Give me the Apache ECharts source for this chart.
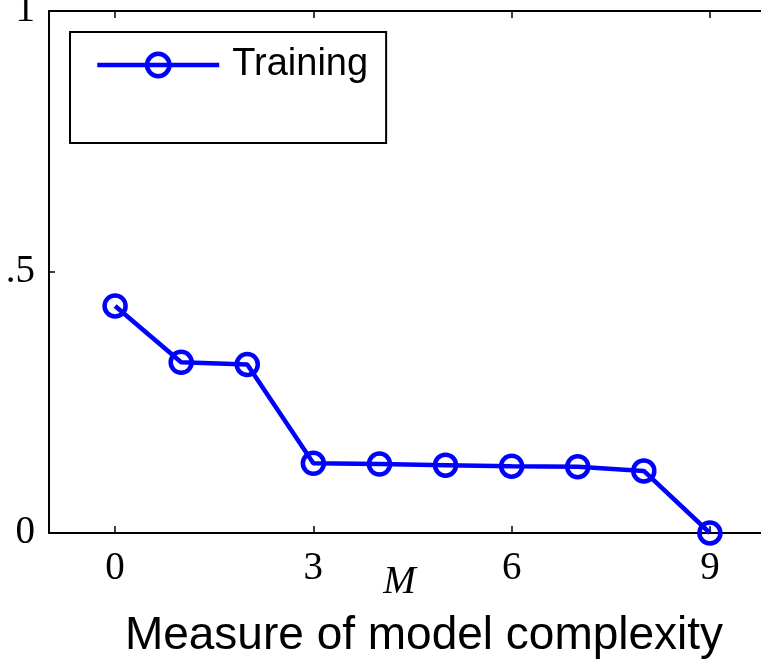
<!DOCTYPE html>
<html lang="en">
<head>
    <meta charset="UTF-8">
    <title>Training error vs M</title>
    <script src="https://cdn.jsdelivr.net/npm/echarts@6/dist/echarts.min.js"></script>
    <style>
        body{
            margin: 0;
            overflow: hidden;
            background: #fff;
        }
        #chart{
            position: absolute;
            left: 0;
            top: 0;
            width: 800px;
            height: 660px;
        }
    </style>
</head>
<body>
    <div id="chart"></div>
    <script>
        // data
        var mValues = [0, 1, 2, 3, 4, 5, 6, 7, 8, 9]
        var trainingErr = [0.435, 0.327, 0.323, 0.1335, 0.132, 0.130, 0.128, 0.127, 0.119, 0.0]
        var xTickValues = [0, 3, 6, 9]
        var yTickLabels = {0: '0', 0.5: '.5', 1: '1'}

        var blue = '#0000ff'
        var serif = 'Liberation Serif'
        var sans = 'Liberation Sans'

        var points = mValues.map(function (m, i) { return [m, trainingErr[i]] })

        var myChart = echarts.init(document.getElementById('chart'))
        var axisLine = {show: true, onZero: false, lineStyle: {color: '#000', width: 2}}
        var option = {
            animation: false,
            grid: {left: 49, top: 11, right: 24, bottom: 127, outerBoundsMode: 'none', containLabel: false},
            title: {
                text: 'Measure of model complexity',
                left: 419,
                textAlign: 'center',
                top: 608,
                textStyle: {fontFamily: sans, fontSize: 46, fontWeight: 'normal', color: '#000'}
            },
            legend: {
                left: 70,
                top: 32,
                orient: 'vertical',
                itemWidth: 122,
                itemHeight: 28,
                padding: [14, 18, 59, 25],
                borderColor: '#000',
                borderWidth: 2,
                backgroundColor: '#fff',
                lineStyle: {width: 4.5},
                itemStyle: {borderWidth: 4.5},
                textStyle: {fontFamily: sans, fontSize: 38, color: '#000', padding: [0, 0, 0, 8]},
                data: ['Training']
            },
            xAxis: [{
                type: 'value',
                min: -1,
                max: 10,
                name: 'M',
                nameLocation: 'middle',
                nameGap: 30,
                nameMoveOverlap: false,
                nameTextStyle: {fontFamily: serif, fontStyle: 'italic', fontSize: 39, color: '#000', padding: [0, 26, 0, 0]},
                axisLine: axisLine,
                splitLine: {show: false},
                axisTick: {show: true, inside: true, length: 7, customValues: xTickValues, lineStyle: {color: '#000', width: 1.5}},
                axisLabel: {customValues: xTickValues, margin: 16, fontFamily: serif, fontSize: 39, color: '#000'}
            }, {
                type: 'value',
                position: 'top',
                min: -1,
                max: 10,
                axisLine: axisLine,
                splitLine: {show: false},
                axisTick: {show: true, inside: true, length: 7, customValues: xTickValues, lineStyle: {color: '#000', width: 1.5}},
                axisLabel: {show: false}
            }],
            yAxis: {
                type: 'value',
                min: 0,
                max: 1,
                interval: 0.5,
                axisLine: axisLine,
                splitLine: {show: false},
                axisTick: {show: true, inside: true, length: 6, lineStyle: {color: '#000', width: 1.5}},
                axisLabel: {
                    margin: 14,
                    fontFamily: serif,
                    fontSize: 39,
                    color: '#000',
                    formatter: function (v) { return yTickLabels[v] }
                }
            },
            series: [{
                name: 'Training',
                type: 'line',
                data: points,
                symbol: 'circle',
                symbolSize: 21,
                lineStyle: {color: blue, width: 4.5},
                itemStyle: {color: 'rgba(255,255,255,0)', borderColor: blue, borderWidth: 4.5}
            }]
        }
        myChart.setOption(option)
    </script>
</body>
</html>
